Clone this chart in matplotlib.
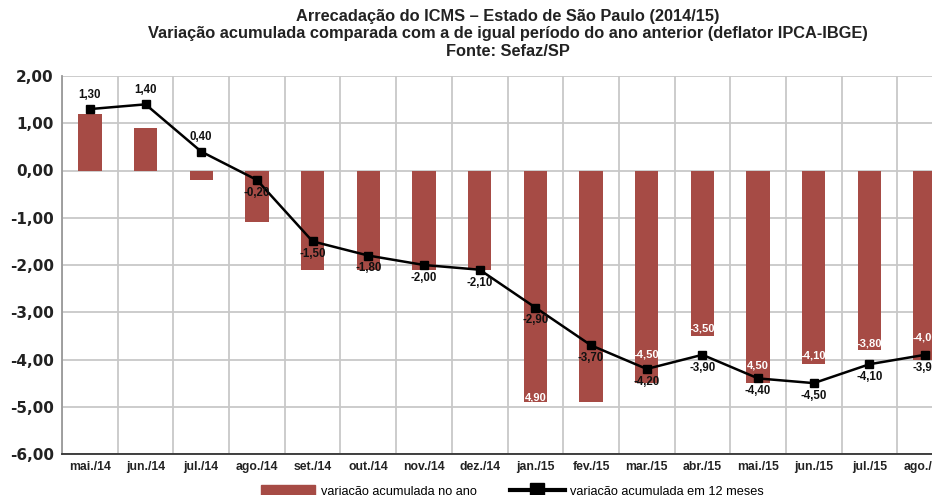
import matplotlib
matplotlib.use("Agg")
import matplotlib.pyplot as plt
from matplotlib.patches import Patch
from matplotlib.lines import Line2D

categories = ["mai./14", "jun./14", "jul./14", "ago./14", "set./14", "out./14", "nov./14", "dez./14",
              "jan./15", "fev./15", "mar./15", "abr./15", "mai./15", "jun./15", "jul./15", "ago./15"]
ano = [1.2, 0.9, -0.2, -1.1, -2.1, -2.1, -2.1, -2.1,
       -4.9, -4.9, -4.5, -3.5, -4.5, -4.1, -3.8, -4.0]
doze = [1.3, 1.4, 0.4, -0.2, -1.5, -1.8, -2.0, -2.1,
        -2.9, -3.7, -4.2, -3.9, -4.4, -4.5, -4.1, -3.9]
yticks = [2, 1, 0, -1, -2, -3, -4, -5, -6]
# bar labels shown in white (index -> text shown)
bar_label_idx = [8, 10, 11, 12, 13, 14, 15]
bar_label_txt = ["4,90", "-4,50", "-3,50", "4,50", "-4,10", "-3,80", "-4,00"]
bar_label_off = [0.10, 0.60, 0.16, 0.38, 0.19, 0.14, 0.47]

BAR = "#A64B45"
GRID = "#c8c8c8"

def fmt(v):
    return ("%.2f" % v).replace(".", ",")

fig = plt.figure(figsize=(9.32, 4.95), dpi=100)
ax = fig.add_axes([62/932, 41/495, 891/932, 378/495])

x = list(range(len(categories)))
ax.bar(x, ano, width=0.42, color=BAR, zorder=2)
ax.plot(x, doze, color="black", lw=1.8, marker="s", markersize=6, zorder=3)

ax.set_xlim(-0.5, len(categories) - 0.5)
ax.set_ylim(-6, 2)
ax.set_yticks(yticks)
ax.set_yticklabels([fmt(v) for v in yticks], fontsize=11, fontweight="bold",
                   color="#222222", family="DejaVu Sans")
ax.set_xticks(x)
ax.set_xticklabels(categories, fontsize=8.8, fontweight="bold", color="#222222",
                   family=["Liberation Sans Narrow", "Liberation Sans"])
ax.set_xticks([i - 0.5 for i in x], minor=True)
ax.grid(True, which="minor", axis="x", color=GRID, lw=1.3, zorder=0)
ax.grid(True, which="major", axis="y", color=GRID, lw=1.3, zorder=0)
ax.tick_params(axis="both", which="both", length=0)
ax.tick_params(axis="y", pad=6)
ax.tick_params(axis="x", pad=5)
for s in ["top", "right"]:
    ax.spines[s].set_visible(False)
ax.spines["left"].set_color("#999999")
ax.spines["left"].set_linewidth(1.3)
ax.spines["bottom"].set_color("#333333")
ax.spines["bottom"].set_linewidth(1.3)

for i, v in enumerate(doze):
    if i < 3:
        ax.annotate(fmt(v), (i, v), xytext=(0, 6), textcoords="offset points",
                    ha="center", va="bottom", fontsize=8.3, fontweight="bold",
                    family="Liberation Sans", color="#111111", zorder=4)
    else:
        ax.annotate(fmt(v), (i, v), xytext=(0, -5), textcoords="offset points",
                    ha="center", va="top", fontsize=8.3, fontweight="bold",
                    family="Liberation Sans", color="#111111", zorder=4)

for i, t, o in zip(bar_label_idx, bar_label_txt, bar_label_off):
    ax.text(i, ano[i] + o, t, ha="center", va="center", fontsize=8,
            fontweight="bold", family="Liberation Sans", color="white", zorder=2.5)

title = ("Arrecadação do ICMS – Estado de São Paulo (2014/15)\n"
         "Variação acumulada comparada com a de igual período do ano anterior (deflator IPCA-IBGE)\n"
         "Fonte: Sefaz/SP")
fig.text(508/932, 1 - 9/495, title, ha="center", va="top", fontsize=11.8,
         fontweight="bold", family="Liberation Sans", color="#222222", linespacing=1.2)

handles = [Patch(color=BAR),
           Line2D([0], [0], color="black", lw=3, marker="s", markersize=10)]
fig.legend(handles, ["variação acumulada no ano", "variação acumulada em 12 meses"],
           loc="upper center", bbox_to_anchor=(512/932, 1 - 485/495), ncol=2,
           frameon=False, handlelength=4.3, handleheight=1.0,
           columnspacing=2.6, handletextpad=0.4, borderaxespad=0, borderpad=0,
           prop={"family": ["Liberation Sans Narrow", "Liberation Sans"], "size": 9.2})

fig.savefig("out.png", dpi=100)
